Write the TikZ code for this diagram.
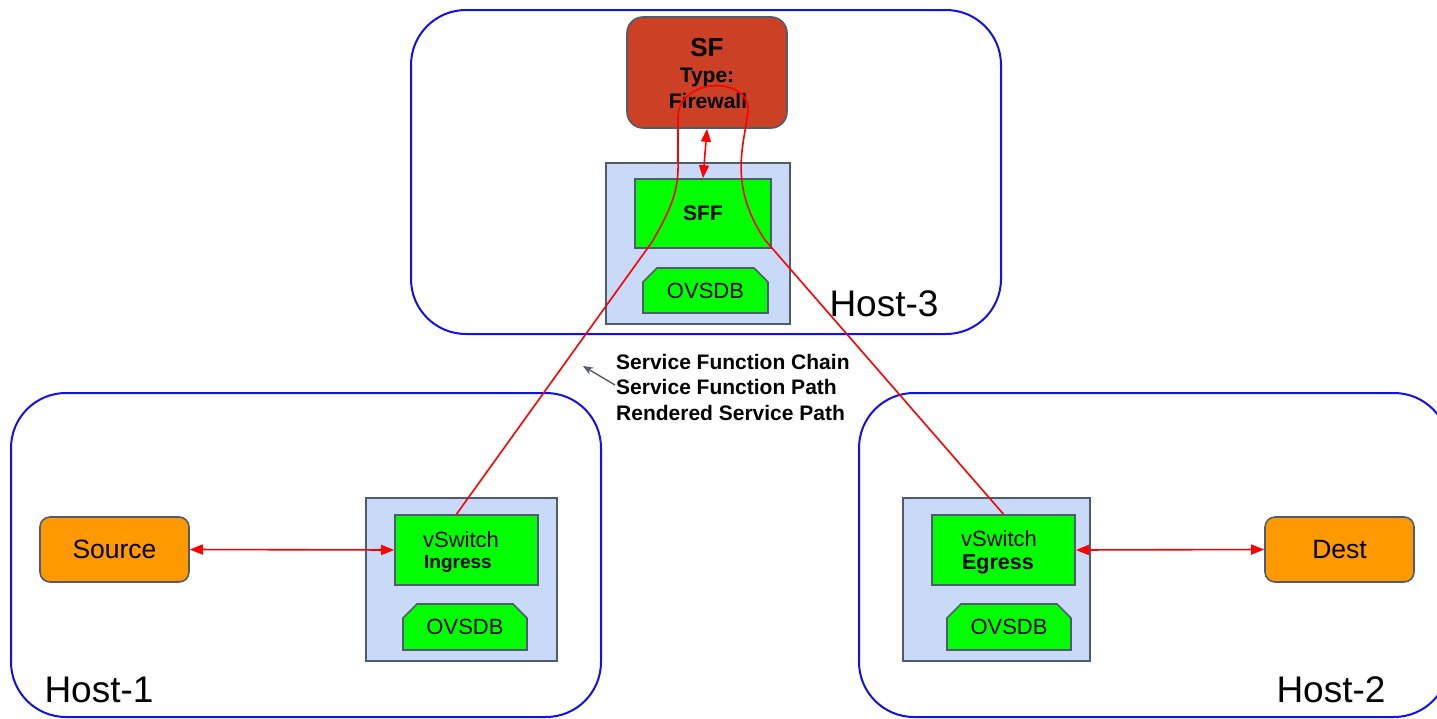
\documentclass[tikz,border=0pt]{standalone}
\usepackage{fontspec}
\setmainfont{Liberation Sans}
\usetikzlibrary{shapes.misc,arrows.meta,calc}
\definecolor{hostblue}{HTML}{1010F0}
\definecolor{boxfill}{HTML}{C9DAF8}
\definecolor{boxline}{HTML}{505C6E}
\definecolor{grn}{HTML}{00FF00}
\definecolor{org}{HTML}{FF9900}
\definecolor{sfred}{HTML}{CC4125}
\definecolor{redl}{HTML}{FF0000}
\newcommand{\fs}[2]{\fontsize{#1}{#2}\selectfont}
\tikzset{
  host/.style={draw=hostblue, line width=2pt, rounded corners=55pt, minimum width=590pt, minimum height=324pt, inner sep=0},
  outerbox/.style={draw=boxline, fill=boxfill, line width=1.6pt, inner sep=0},
  grnbox/.style={draw=boxline, fill=grn, line width=1.6pt, inner sep=0},
  txt/.style={inner sep=0},
  dbbox/.style={chamfered rectangle, chamfered rectangle corners={north east,north west}, chamfered rectangle xsep=7pt, chamfered rectangle ysep=7pt, draw=boxline, fill=grn, line width=1.6pt, inner sep=0, font=\fs{22}{24}},
  endpt/.style={draw=boxline, fill=org, line width=1.6pt, rounded corners=10pt, minimum width=149pt, minimum height=65pt, inner sep=0, font=\fs{26.5}{28}},
  hostlbl/.style={inner sep=0, font=\fs{37}{40}},
  redarr/.style={draw=redl, line width=1.6pt, {Triangle[length=13pt,width=10pt]}-{Triangle[length=13pt,width=10pt]}},
  redpath/.style={draw=redl, line width=1.6pt},
}
\begin{document}
\begin{tikzpicture}[x=1pt,y=-1pt]
\useasboundingbox (0,0) rectangle (1437,718);
\clip (0,0) rectangle (1437,718);
% hosts
\node[host] (h3) at (706,172) {};
\node[host] (h1) at (306,555) {};
\node[host] (h2) at (1154,555) {};
\node[hostlbl] (h3l) at (884,304) {Host-3};
\node[hostlbl] (h1l) at (99,690) {Host-1};
\node[hostlbl] (h2l) at (1331,690) {Host-2};
% host-3 content
\node[draw=boxline, fill=sfred, line width=1.6pt, rounded corners=16pt, minimum width=160pt, minimum height=111pt, inner sep=0] (sf) at (707,72.5) {};
\node[txt, font=\fs{26}{28}\bfseries] (sft1) at (707,48) {SF};
\node[txt, font=\fs{21}{24}\bfseries] (sft2) at (707,77) {Type:};
\node[txt, font=\fs{21}{24}\bfseries] (sft3) at (708,101) {Firewall};
\node[outerbox, minimum width=184pt, minimum height=161pt] (o3) at (698,243.5) {};
\node[grnbox, minimum width=136pt, minimum height=69pt, font=\fs{21}{24}\bfseries] (sff) at (703,213.5) {SFF};
\node[dbbox, minimum width=125pt, minimum height=45pt] (db3) at (705.5,290.5) {OVSDB};
% host-1 content
\node[outerbox, minimum width=191pt, minimum height=163pt] (o1) at (461.5,579.5) {};
\node[grnbox, minimum width=143pt, minimum height=70pt] (vin) at (466.5,550) {};
\node[txt, font=\fs{22}{24}] (vint1) at (461,540) {vSwitch};
\node[txt, font=\fs{19}{24}\bfseries] (vint2) at (458,564) {Ingress};
\node[dbbox, minimum width=124pt, minimum height=46pt] (db1) at (465,627) {OVSDB};
% host-2 content
\node[outerbox, minimum width=187pt, minimum height=163pt] (o2) at (996.5,579.5) {};
\node[grnbox, minimum width=143pt, minimum height=70pt] (vout) at (1003.5,550) {};
\node[txt, font=\fs{22}{24}] (voutt1) at (999,539) {vSwitch};
\node[txt, font=\fs{21.5}{24}\bfseries] (voutt2) at (998,564) {Egress};
\node[dbbox, minimum width=124pt, minimum height=46pt] (db2) at (1009,627) {OVSDB};
% endpoints
\node[endpt] (src) at (114.5,549.5) {Source};
\node[endpt] (dst) at (1339.5,549.5) {Dest};
% arrows
\draw[redarr] (src.east) -- (vin.west);
\draw[redarr] (vout.east) -- (dst.west);
\draw[redarr] (sf.south) -- (sff.north);
% chain path
\draw[redpath] ($(vin.north)+(-10,0)$) -- (652,242)
  .. controls (672,207) and (679,190) .. (678,160) -- (678,118)
  .. controls (678,76) and (752,76) .. (748,112)
  .. controls (744,145) and (728,185) .. (765,240) -- (vout.north);
% label
\node[anchor=north west, inner sep=0, align=left, font=\fs{21}{25.5}\bfseries] (lbl) at (616,354)
  {Service Function Chain\\Service Function Path\\Rendered Service Path};
\coordinate (lbltip) at (583,366);
\draw[draw=boxline, line width=1.4pt, -{Stealth[length=10pt,width=8pt]}] ($(lbl.north west)+(-1,31)$) -- (lbltip);
\end{tikzpicture}
\end{document}
